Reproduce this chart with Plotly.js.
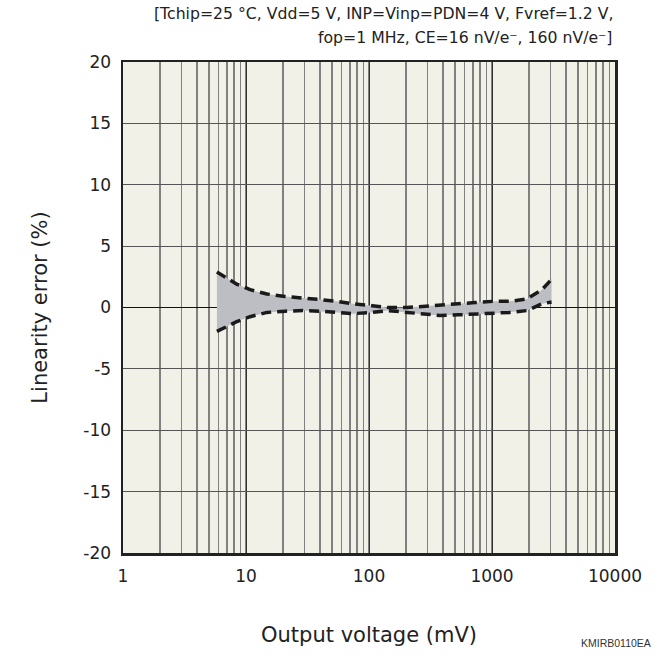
<!DOCTYPE html>
<html><head><meta charset="utf-8">
<script src="https://cdn.plot.ly/plotly-3.0.1.min.js"></script>
<style>body{margin:0;background:#fff}#chart{width:663px;height:671px}</style>
</head><body><div id="chart"></div>
<script>
const voltage = [5.8, 8.4, 10.8, 14.8, 20.8, 29, 40, 55, 74, 106, 143, 204, 275, 378, 530, 728, 1019, 1400, 1926, 2550, 3050];
const errorUpper = [2.9, 1.9, 1.45, 1.1, 0.9, 0.8, 0.65, 0.5, 0.3, 0.15, 0.0, 0.0, 0.08, 0.15, 0.3, 0.4, 0.5, 0.5, 0.7, 1.45, 2.3];
const errorLower = [-1.95, -1.15, -0.75, -0.4, -0.3, -0.25, -0.3, -0.4, -0.5, -0.4, -0.25, -0.4, -0.55, -0.65, -0.6, -0.55, -0.5, -0.4, -0.25, 0.3, 0.45];
const xTickVals = [1, 10, 100, 1000, 10000];
const xTickText = ["1", "10", "100", "1000", "10000"];
const yTickVals = [-20, -15, -10, -5, 0, 5, 10, 15, 20];
const yTickText = ["-20", "-15", "-10", "-5", "0", "5", "10", "15", "20"];
const titleLines = ["[Tchip=25 °C, Vdd=5 V, INP=Vinp=PDN=4 V, Fvref=1.2 V,", "fop=1 MHz, CE=16 nV/e⁻, 160 nV/e⁻]"];

const font = "DejaVu Sans, Verdana, sans-serif";
const bandX = voltage.concat(voltage.slice().reverse());
const bandY = errorUpper.concat(errorLower.slice().reverse());
const traces = [
  {x: bandX, y: bandY, type: 'scatter', mode: 'lines', fill: 'toself', fillcolor: '#bdbdc4', line: {width: 0}, hoverinfo: 'skip'},
  {x: voltage, y: errorUpper, type: 'scatter', mode: 'lines', line: {color: '#1a1a1a', width: 3.5, dash: '10px,6px'}},
  {x: voltage, y: errorLower, type: 'scatter', mode: 'lines', line: {color: '#1a1a1a', width: 3.5, dash: '10px,6px'}}
];
const titleFont = {size: 15.7, family: font, color: '#222'};
const layout = {
  width: 663, height: 671,
  margin: {l: 123, r: 48, t: 62, b: 118},
  paper_bgcolor: '#ffffff', plot_bgcolor: '#f2f1e8',
  showlegend: false,
  font: {family: font, color: '#222', size: 17},
  xaxis: {
    type: 'log', range: [0, 4],
    tickvals: xTickVals, ticktext: xTickText,
    showgrid: true, gridcolor: '#333', gridwidth: 1,
    minor: {dtick: 'D1', showgrid: true, gridcolor: '#808080', gridwidth: 1.2, ticks: ''},
    showline: true, mirror: true, linecolor: '#222', linewidth: 2.5,
    ticks: '', tickfont: {size: 17}, ticklabelstandoff: 6,
    title: {text: 'Output voltage (mV)', font: {size: 21}, standoff: 43}
  },
  yaxis: {
    range: [-20, 20], tickvals: yTickVals, ticktext: yTickText,
    showgrid: true, gridcolor: '#555', gridwidth: 1,
    zeroline: true, zerolinecolor: '#111', zerolinewidth: 1.5,
    showline: true, mirror: true, linecolor: '#222', linewidth: 2.5,
    ticks: '', tickfont: {size: 17}, ticklabelstandoff: 6,
    title: {text: 'Linearity error (%)', font: {size: 21}, standoff: 30}
  },
  annotations: [
    {xref: 'paper', yref: 'paper', x: 1, y: 1.0978, xanchor: 'right', yanchor: 'middle', align: 'right',
     text: titleLines[0], showarrow: false, font: titleFont},
    {xref: 'paper', yref: 'paper', x: 1, y: 1.0489, xanchor: 'right', yanchor: 'middle', align: 'right',
     text: titleLines[1], showarrow: false, font: titleFont},
    {xref: 'paper', yref: 'paper', x: 1.077, y: -0.183, xanchor: 'right', yanchor: 'middle', text: 'KMIRB0110EA', showarrow: false, font: {size: 10.5, family: 'Liberation Sans, Arial, sans-serif', color: '#333'}}
  ]
};
Plotly.newPlot('chart', traces, layout, {displayModeBar: false, staticPlot: true});
</script></body></html>
